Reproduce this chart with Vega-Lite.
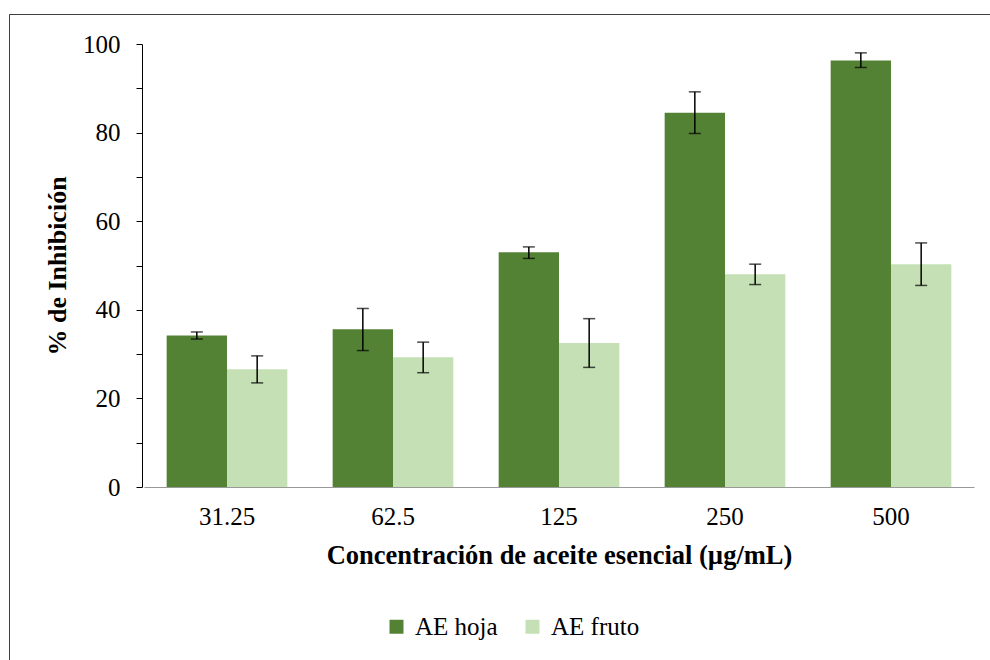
{
  "$schema": "https://vega.github.io/schema/vega-lite/v6.json",
  "width": 981,
  "height": 646,
  "autosize": {"type": "none"},
  "padding": {"left": 9, "top": 14, "right": 0, "bottom": 0},
  "background": "white",
  "config": {
    "view": {"stroke": "#404040", "strokeWidth": 1, "strokeDash": [981, 1627, 646, 1]},
    "font": "Liberation Serif"
  },
  "data": {
    "values": [
      {"conc": "31.25", "serie": "AE hoja", "value": 34.2, "lo": 33.4, "hi": 35.0},
      {"conc": "31.25", "serie": "AE fruto", "value": 26.6, "lo": 23.5, "hi": 29.6},
      {"conc": "62.5", "serie": "AE hoja", "value": 35.6, "lo": 30.8, "hi": 40.3},
      {"conc": "62.5", "serie": "AE fruto", "value": 29.3, "lo": 25.8, "hi": 32.7},
      {"conc": "125", "serie": "AE hoja", "value": 53.0, "lo": 51.6, "hi": 54.2},
      {"conc": "125", "serie": "AE fruto", "value": 32.5, "lo": 27.0, "hi": 38.0},
      {"conc": "250", "serie": "AE hoja", "value": 84.5, "lo": 79.8, "hi": 89.2},
      {"conc": "250", "serie": "AE fruto", "value": 48.0, "lo": 45.7, "hi": 50.3},
      {"conc": "500", "serie": "AE hoja", "value": 96.3, "lo": 94.7, "hi": 98.0},
      {"conc": "500", "serie": "AE fruto", "value": 50.3, "lo": 45.5, "hi": 55.1}
    ]
  },
  "encoding": {
    "x": {
      "field": "conc",
      "type": "nominal",
      "sort": ["31.25", "62.5", "125", "250", "500"],
      "scale": {"range": [135, 965], "paddingInner": 0.273, "paddingOuter": 0.1365},
      "axis": {
        "offset": -173,
        "ticks": false,
        "tickSize": 0,
        "domainColor": "#999999",
        "domainWidth": 1,
        "labelAngle": 0,
        "labelFont": "Liberation Serif",
        "labelFontSize": 25,
        "labelColor": "black",
        "labelPadding": 17,
        "title": "Concentración de aceite esencial (µg/mL)",
        "titleFont": "Liberation Serif",
        "titleFontSize": 26.5,
        "titleFontWeight": "bold",
        "titleColor": "black",
        "titlePadding": 13
      }
    },
    "xOffset": {"field": "serie", "type": "nominal", "sort": ["AE hoja", "AE fruto"], "scale": {"paddingInner": 0, "paddingOuter": 0}}
  },
  "layer": [
    {
      "mark": {"type": "bar"},
      "encoding": {
        "y": {
          "field": "value",
          "type": "quantitative",
          "scale": {"domain": [0, 100], "range": [473, 30], "nice": false, "zero": true},
          "axis": {
            "title": "% de Inhibición",
            "values": [0, 10, 20, 30, 40, 50, 60, 70, 80, 90, 100],
            "labelExpr": "datum.value % 20 === 0 ? datum.label : ''",
            "grid": false,
            "offset": -133,
            "domainColor": "black",
            "tickColor": "black",
            "tickSize": 6,
            "labelFont": "Liberation Serif",
            "labelFontSize": 25,
            "labelColor": "black",
            "labelPadding": 16,
            "labelFlush": false,
            "labelOverlap": false,
            "titleFont": "Liberation Serif",
            "titleFontSize": 26,
            "titleFontWeight": "bold",
            "titleColor": "black",
            "titlePadding": 12
          }
        },
        "color": {
          "field": "serie",
          "type": "nominal",
          "sort": ["AE hoja", "AE fruto"],
          "scale": {"domain": ["AE hoja", "AE fruto"], "range": ["#548235", "#C5E0B4"]},
          "legend": {
            "orient": "none",
            "legendX": 375,
            "legendY": 600,
            "direction": "horizontal",
            "title": null,
            "symbolType": "square",
            "symbolSize": 196,
            "symbolStrokeWidth": 0,
            "labelFont": "Liberation Serif",
            "labelFontSize": 25,
            "labelColor": "black",
            "columnPadding": 22,
            "labelOffset": 6
          }
        }
      }
    },
    {
      "mark": {"type": "rule", "color": "black", "strokeWidth": 1.5},
      "encoding": {
        "y": {"field": "lo", "type": "quantitative", "title": "% de Inhibición"},
        "y2": {"field": "hi"}
      }
    },
    {
      "mark": {"type": "tick", "color": "black", "size": 12, "thickness": 1.5},
      "encoding": {"y": {"field": "lo", "type": "quantitative", "title": "% de Inhibición"}}
    },
    {
      "mark": {"type": "tick", "color": "black", "size": 12, "thickness": 1.5},
      "encoding": {"y": {"field": "hi", "type": "quantitative", "title": "% de Inhibición"}}
    }
  ]
}
